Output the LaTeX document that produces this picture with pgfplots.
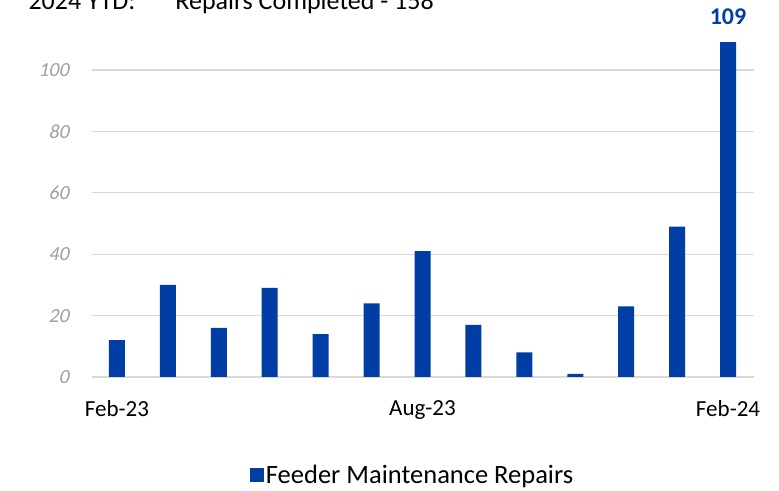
\documentclass[border=0pt]{standalone}
\usepackage{fontspec}
\setmainfont{Carlito}
\newfontfamily\tickfont{Carlito}[FakeSlant=0.2]
\usepackage{pgfplots}
\pgfplotsset{compat=1.18}
\definecolor{barblue}{RGB}{0,61,165}
\definecolor{gridgray}{RGB}{217,217,217}
\definecolor{tickgray}{RGB}{160,160,160}

\begin{document}
\begin{tikzpicture}
\useasboundingbox (0,0) rectangle (779bp,491bp);
\begin{axis}[
  at={(91.5bp,114bp)}, anchor=south west,
  scale only axis,
  width=662bp, height=337.7bp,
  xmin=-0.5, xmax=12.5, ymin=0, ymax=110,
  ytick={0,20,...,100},
  xtick={0,6,12},
  xticklabels={Feb-23,Aug-23,Feb-24},
  axis line style={draw=none},
  major tick length=0pt,
  ymajorgrids,
  major grid style={color=gridgray, line width=1.3bp},
  /pgf/number format/assume math mode=true,
  yticklabel style={font=\tickfont\fontsize{20bp}{24bp}\selectfont, text=tickgray, xshift=-19bp},
  xticklabel style={font=\fontsize{23bp}{27bp}\selectfont, text=black, yshift=-20bp},
  legend style={at={(0.485,-0.29)}, anchor=center, draw=none, fill=none,
    font=\fontsize{26.5bp}{30bp}\selectfont},
  ybar, bar width=16bp, bar shift=0pt,
]
\addplot[fill=barblue, draw=none,
  legend image code/.code={\fill[barblue] (-5bp,-7bp) rectangle (9bp,7bp);}] coordinates {
(0,12) (1,30) (2,16) (3,29) (4,14) (5,24) (6,41)
(7,17) (8,8) (9,1) (10,23) (11,49) (12,109)
};
\addlegendentry{Feeder Maintenance Repairs}
\addplot[fill=barblue, draw=none, forget plot,
  nodes near coords,
  every node near coord/.append style={font=\fontsize{24bp}{28bp}\selectfont\bfseries, text=barblue, yshift=14bp}]
  coordinates {(12,109)};
\end{axis}
\node[anchor=base west, font=\fontsize{26bp}{30bp}\selectfont] at (25bp,481.5bp) {2024 YTD:\hspace{40bp}Repairs Completed - 158};
\end{tikzpicture}
\end{document}
